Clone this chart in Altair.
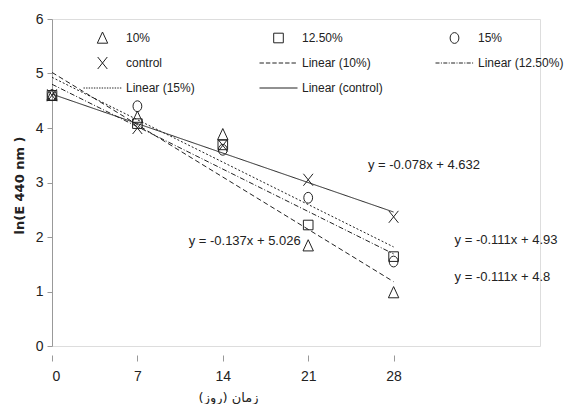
import altair as alt
import pandas as pd

# ---- data ----
days = [0, 7, 14, 21, 28]
series_names = ["10%", "12.50%", "15%", "control"]
vals_10 = [4.60, 4.20, 3.88, 1.84, 0.98]
vals_125 = [4.60, 4.08, 3.69, 2.22, 1.64]
vals_15 = [4.60, 4.40, 3.60, 2.72, 1.55]
vals_ctrl = [4.60, 4.00, 3.68, 3.05, 2.37]
trend_labels = ["Linear (10%)", "Linear (12.50%)", "Linear (15%)", "Linear (control)"]

eq_texts = ["y = -0.078x + 4.632", "y = -0.137x + 5.026", "y = -0.111x + 4.93", "y = -0.111x + 4.8"]
eq_x = [25.9, 11.2, 33.0, 33.0]
eq_y = [3.32, 1.93, 1.94, 1.27]

x_ticks = [0, 7, 14, 21, 28]
y_ticks = [0, 1, 2, 3, 4, 5, 6]

# ---- tables ----
rows = []
for name, vals in zip(series_names, [vals_10, vals_125, vals_15, vals_ctrl]):
    for d, v in zip(days, vals):
        rows.append({"day": d, "value": v, "series": name})
df = pd.DataFrame(rows)
eq_df = pd.DataFrame({"text": eq_texts, "x": eq_x, "y": eq_y})


# ---- marker / legend glyphs (unit box -1..1) ----
def dash_path(pattern):
    segs, pos, i = [], -0.95, 0
    while pos < 0.95:
        ln = pattern[i % len(pattern)]
        end = min(pos + ln, 0.95)
        if i % 2 == 0:
            segs.append(f"M{pos:.3f},0L{end:.3f},0")
        pos = end
        i += 1
    return "".join(segs)


glyph_for = {
    "10%": "M0,-0.3L0.26,0.26L-0.26,0.26Z",
    "12.50%": "M-0.24,-0.24L0.24,-0.24L0.24,0.24L-0.24,0.24Z",
    "15%": "M-0.22,0A0.22,0.27,0,1,1,0.22,0A0.22,0.27,0,1,1,-0.22,0Z",
    "control": "M-0.24,-0.3L0.24,0.3M-0.24,0.3L0.24,-0.3",
    "Linear (10%)": dash_path([0.22, 0.1]),
    "Linear (12.50%)": dash_path([0.2, 0.07, 0.05, 0.07]),
    "Linear (15%)": dash_path([0.07, 0.06]),
    "Linear (control)": "M-0.95,0L0.95,0",
}
# legend fills column by column (3 rows): order so it reads row by row like the original
legend_order = ["10%", "control", "Linear (15%)",
                "12.50%", "Linear (10%)", "Linear (control)",
                "15%", "Linear (12.50%)"]
glyphs = [glyph_for[k] for k in legend_order]

FONT = "Liberation Sans, Arial, sans-serif"
INK = "#222222"

xs = alt.Scale(domain=[0, 40], nice=False)
ys = alt.Scale(domain=[0, 6], nice=False)

points = alt.Chart(df).mark_point(filled=False, size=1600, strokeWidth=1, color=INK, opacity=1).encode(
    x=alt.X("day:Q", scale=xs,
            axis=alt.Axis(values=x_ticks, domain=False, grid=False, tickColor="#999999", tickSize=6,
                          offset=9, labelPadding=8, labelFont=FONT, labelFontSize=14, labelColor=INK,
                          title="زمان (روز)", titleFont="DejaVu Sans", titleFontSize=13,
                          titleFontWeight="normal", titleColor=INK, titleX=176, titleY=42,
                          titleAlign="center", titleBaseline="middle")),
    y=alt.Y("value:Q", scale=ys,
            axis=alt.Axis(values=y_ticks, format="d", grid=False, domainColor="#999999",
                          tickColor="#999999", tickSize=5, labelPadding=4, labelFont=FONT,
                          labelFontSize=14, labelColor=INK,
                          title="ln(E 440 nm )", titleFont="DejaVu Sans", titleFontSize=13,
                          titleFontWeight="bold", titleColor=INK, titleX=-33, titleY=166,
                          titleAngle=-90, titleAlign="center", titleBaseline="middle")),
    shape=alt.Shape("series:N",
                    scale=alt.Scale(domain=legend_order, range=glyphs),
                    legend=alt.Legend(title=None, orient="none", legendX=30, legendY=10, columns=3,
                                      symbolSize=1600, symbolStrokeWidth=1, symbolStrokeColor=INK,
                                      symbolFillColor="transparent", labelFont=FONT, labelFontSize=12,
                                      labelColor=INK, labelOffset=3, columnPadding=46, rowPadding=7,
                                      clipHeight=18, gridAlign="all", padding=0)),
)

lines = alt.Chart(df).transform_regression(
    "day", "value", groupby=["series"], extent=[0, 28]
).mark_line(color=INK, strokeWidth=1).encode(
    x=alt.X("day:Q", scale=xs),
    y=alt.Y("value:Q", scale=ys),
    detail="series:N",
    strokeDash=alt.StrokeDash("series:N",
                              scale=alt.Scale(domain=series_names,
                                              range=[[5, 3], [5, 2, 1, 2], [2, 2], [1, 0]]),
                              legend=None),
)

eqs = alt.Chart(eq_df).mark_text(align="left", baseline="middle", font=FONT, fontSize=13, color=INK).encode(
    x=alt.X("x:Q", scale=xs),
    y=alt.Y("y:Q", scale=ys),
    text="text:N",
)

chart = alt.layer(lines, points, eqs).properties(
    width=488, height=327,
    autosize=alt.AutoSizeParams(type="none"),
    padding={"left": 44, "top": 11, "right": 25, "bottom": 58},
).configure_view(stroke=None).configure(background="white")

chart.save("out.html", embed_options={"renderer": "svg", "actions": False})
